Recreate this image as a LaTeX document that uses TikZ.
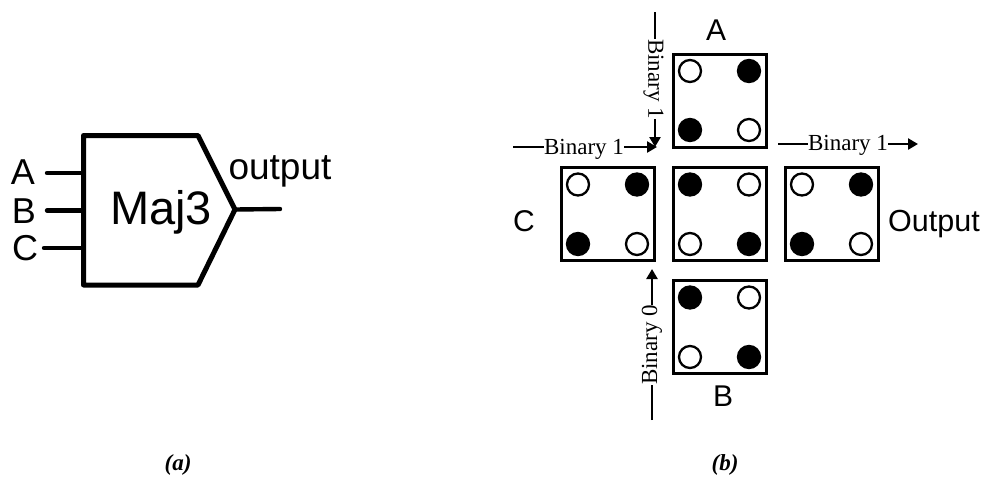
\documentclass[tikz,border=0pt]{standalone}
\usepackage{fontspec}
\setmainfont{Liberation Serif}
\newfontfamily\arialf{Liberation Sans}
\usetikzlibrary{arrows.meta}
\newcommand{\fsz}[1]{\fontsize{#1}{#1}\selectfont}
\tikzset{
  x=1pt,y=-1pt,
  gate/.style={line width=5pt,line join=round},
  wire/.style={line width=4.4pt,line cap=round},
  cell/.style={draw,line width=3.2pt,minimum size=93pt,inner sep=0pt,line join=miter},
  dotw/.style={circle,draw,line width=2.3pt,fill=white,minimum size=22pt,inner sep=0pt},
  dotb/.style={circle,draw,line width=2.3pt,fill=black,minimum size=22pt,inner sep=0pt},
  sans/.style={font=\arialf\fsz{#1},inner sep=0pt},
  bin/.style={font=\fsz{23},inner sep=0pt},
  flow/.style={line width=2.5pt},
  flowa/.style={line width=2.5pt,-{Triangle[length=10pt,width=11pt]}},
  capt/.style={font=\bfseries\itshape\fsz{23},inner sep=0pt}
}
\begin{document}
\begin{tikzpicture}
\useasboundingbox (0,0) rectangle (985,483);
% gate
\coordinate (g1) at (83.5,135.5);
\coordinate (g2) at (198,135.5);
\coordinate (g3) at (235,209.5);
\coordinate (g4) at (198,285);
\coordinate (g5) at (83.5,285);
\draw[gate] (g1) -- (g2) -- (g3) -- (g4) -- (g5) -- cycle;
\node[sans=47] (maj) at (161,212) {Maj3};
\node[sans=36] (la) at (23,172) {A};
\node[sans=36] (lb) at (24,211) {B};
\node[sans=36] (lc) at (25,248) {C};
\node[sans=37] (lo) at (280,171) {output};
\coordinate (ia) at (47,173); \coordinate (iae) at (83.5,173);
\coordinate (ib) at (47,210.5); \coordinate (ibe) at (83.5,210.5);
\coordinate (ic) at (44,248); \coordinate (ice) at (83.5,248);
\coordinate (oe) at (280,209);
\draw[wire] (ia) -- (iae);
\draw[wire] (ib) -- (ibe);
\draw[wire] (ic) -- (ice);
\draw[wire] (g3) -- (oe);
% cells
\node[cell] (bA) at (719.7,100.7) {};
\node[cell] (bM) at (719.7,214) {};
\node[cell] (bC) at (607.7,214) {};
\node[cell] (bO) at (831.7,214) {};
\node[cell] (bB) at (719.7,327) {};
% dots
\node[dotw] (a1) at (690,71) {};
\node[dotb] (a2) at (749,71) {};
\node[dotb] (a3) at (690,130) {};
\node[dotw] (a4) at (749,130) {};
\node[dotw] (c1) at (578,184.5) {};
\node[dotb] (c2) at (637,184.5) {};
\node[dotb] (c3) at (578,244) {};
\node[dotw] (c4) at (637,244) {};
\node[dotb] (m1) at (690,184.5) {};
\node[dotw] (m2) at (749,184.5) {};
\node[dotw] (m3) at (690,244) {};
\node[dotb] (m4) at (749,244) {};
\node[dotw] (o1) at (802,184.5) {};
\node[dotb] (o2) at (861,184.5) {};
\node[dotb] (o3) at (802,244) {};
\node[dotw] (o4) at (861,244) {};
\node[dotb] (b1) at (690,297.5) {};
\node[dotw] (b2) at (749,297.5) {};
\node[dotw] (b3) at (690,357) {};
\node[dotb] (b4) at (749,357) {};
% cell labels
\node[sans=30] (tA) at (716,30) {A};
\node[sans=30] (tB) at (723,396) {B};
\node[sans=30] (tC) at (524,221) {C};
\node[sans=30.5] (tO) at (934,224) {Output};
% binary flows
\node[bin] (bl) at (584,149) {Binary 1};
\coordinate (bl0) at (513,147); \coordinate (bl1) at (657,147);
\draw[flow] (bl0) -- (bl0-|bl.west);
\draw[flowa] (bl1-|bl.east) -- (bl1);
\node[bin,rotate=-90] (bt) at (653.5,79) {Binary 1};
\coordinate (bt0) at (655,12); \coordinate (bt1) at (655,147);
\draw[flow] (bt0) -- (bt0|-bt.west);
\draw[flowa] (bt1|-bt.east) -- (bt1);
\node[bin,rotate=90] (bb) at (652,345) {Binary 0};
\node[bin] (br) at (848,145) {Binary 1};
\coordinate (br0) at (778,144); \coordinate (br1) at (918,144);
\draw[flow] (br0) -- (br0-|br.west);
\draw[flowa] (br1-|br.east) -- (br1);
\coordinate (bb0) at (652,420); \coordinate (bb1) at (652,269);
\draw[flow] (bb0) -- (bb0|-bb.west);
\draw[flowa] (bb1|-bb.east) -- (bb1);
% captions
\node[capt] (ca) at (178,465) {(a)};
\node[capt] (cb) at (725,465) {(b)};
\end{tikzpicture}
\end{document}
